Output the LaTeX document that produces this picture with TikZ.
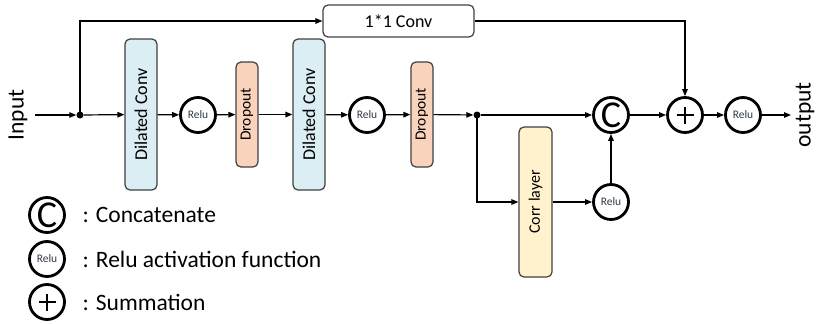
\documentclass[tikz,border=0pt]{standalone}
\usepackage{fontspec}
\setmainfont{Carlito}
\usetikzlibrary{arrows.meta}
\definecolor{convblue}{HTML}{DAEEF3}
\definecolor{dropred}{HTML}{F9D3BC}
\definecolor{corryellow}{HTML}{FFF2CC}
\definecolor{boxline}{HTML}{404040}
\definecolor{reluText}{HTML}{303A4A}

\begin{document}
\begin{tikzpicture}[x=1pt, y=-1pt,
    box/.style={draw=boxline, line width=1.2pt, rounded corners=5pt, inner sep=0pt},
    convbox/.style={box, fill=convblue, minimum width=32pt, minimum height=151pt, font=\fontsize{18}{18}\selectfont},
    dropbox/.style={box, fill=dropred, minimum width=22pt, minimum height=105pt, font=\fontsize{15.5}{16}\selectfont},
    op/.style={circle, draw, line width=2.8pt, fill=white, minimum size=35pt, inner sep=0pt},
    relu/.style={op, text=reluText, font=\fontsize{11.5}{12}\selectfont},
    cat/.style={op, font=\fontsize{38}{38}\selectfont},
    sum/.style={op, path picture={
      \draw[line width=2.8pt] ([xshift=-8.5pt]path picture bounding box.center) -- ([xshift=8.5pt]path picture bounding box.center);
      \draw[line width=2.8pt] ([yshift=-8.5pt]path picture bounding box.center) -- ([yshift=8.5pt]path picture bounding box.center);}},
    dot/.style={circle, fill, inner sep=0pt, minimum size=7pt},
    conn/.style={line width=1.2pt, -{Triangle[length=7pt,width=5.5pt]}},
    big/.style={font=\fontsize{23.5}{24}\selectfont}]
  \useasboundingbox (0,0) rectangle (817,324);
  % input and output
  \node[big, rotate=90] (inlbl) at (18,115) {Input};
  \node[big, rotate=90] (outlbl) at (805,115) {output};
  \coordinate (instart) at (35,115);
  \coordinate (outend) at (791,115);
  % main path
  \node[dot] (dot1) at (80,115) {};
  \node[convbox] (dc1) at (141,114.5) {\rotatebox{90}{Dilated Conv}};
  \node[relu] (relu1) at (198,115) {Relu};
  \node[dropbox] (do1) at (247,114.5) {\rotatebox{90}{Dropout}};
  \node[convbox] (dc2) at (309,114.5) {\rotatebox{90}{Dilated Conv}};
  \node[relu] (relu2) at (367,115) {Relu};
  \node[dropbox] (do2) at (422,114.5) {\rotatebox{90}{Dropout}};
  \node[dot] (dot2) at (477,115) {};
  \node[cat] (cat) at (611,115) {C};
  \node[sum] (sum) at (685,115) {};
  \node[relu] (relu3) at (743,115) {Relu};
  % skip and corr branches
  \node[box, minimum width=151pt, minimum height=32pt, font=\fontsize{18}{18}\selectfont] (conv11) at (398.5,21) {1*1 Conv};
  \node[box, fill=corryellow, minimum width=33pt, minimum height=150pt, font=\fontsize{16}{16}\selectfont] (corr) at (535.5,202) {\rotatebox{90}{Corr layer}};
  \node[relu] (relu4) at (611,202) {Relu};
  % connectors
  \draw[conn] (instart) -- (dot1);
  \draw[conn] (dot1) -- (dc1);
  \draw[conn] (dc1) -- (relu1);
  \draw[conn] (relu1) -- (do1);
  \draw[conn] (do1) -- (dc2);
  \draw[conn] (dc2) -- (relu2);
  \draw[conn] (relu2) -- (do2);
  \draw[conn] (do2) -- (dot2);
  \draw[conn] (dot2) -- (cat);
  \draw[conn] (cat) -- (sum);
  \draw[conn] (sum) -- (relu3);
  \draw[conn] (relu3) -- (outend);
  \draw[conn] (dot1.center) |- (conv11.west);
  \draw[conn] (conv11.east) -| (sum);
  \draw[conn] (dot2.center) |- (corr.west);
  \draw[conn] (corr) -- (relu4);
  \draw[conn] (relu4) -- (cat);
  % legend
  \node[cat] (legcat) at (47,215) {C};
  \node[relu] (legrelu) at (47,259) {Relu};
  \node[sum] (legsum) at (47,302) {};
  \node[big, anchor=west] (txtcat) at (79,215) {: Concatenate};
  \node[big, anchor=west] (txtrelu) at (79,259) {: Relu activation function};
  \node[big, anchor=west] (txtsum) at (79,302) {: Summation};
\end{tikzpicture}
\end{document}
